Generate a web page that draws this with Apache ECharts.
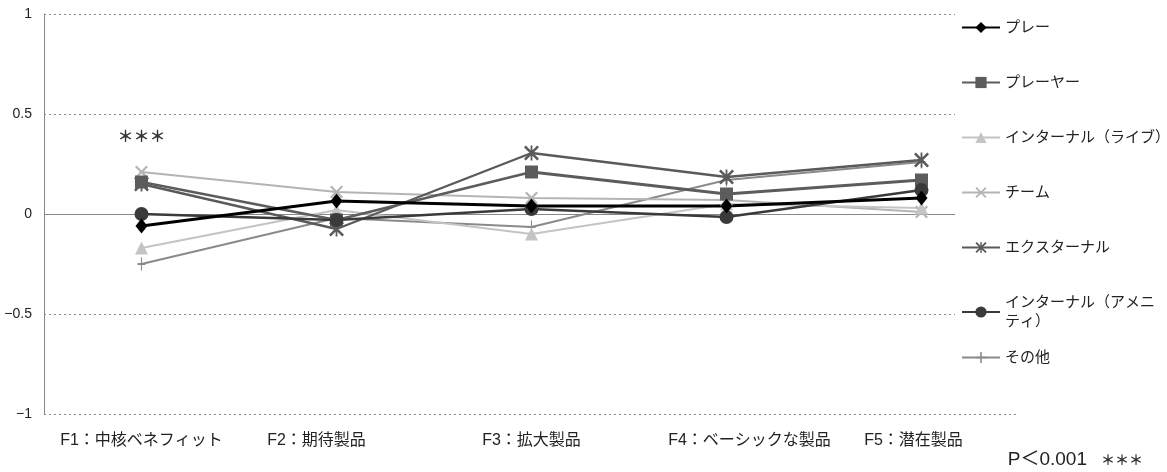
<!DOCTYPE html>
<html><head><meta charset="utf-8">
<script src="https://cdn.jsdelivr.net/npm/echarts@6/dist/echarts.min.js"></script>
<style>html,body{margin:0;padding:0;background:#fff}#c{width:1167px;height:472px}</style>
</head><body><div id="c"></div>
<script>
const categories = ['F1：中核ベネフィット','F2：期待製品','F3：拡大製品','F4：ベーシックな製品','F5：潜在製品'];
const play      = [-0.06, 0.065, 0.04, 0.04, 0.08];
const player    = [0.16, -0.03, 0.21, 0.10, 0.17];
const live      = [-0.17, 0.02, -0.10, 0.05, 0.03];
const team      = [0.21, 0.11, 0.08, 0.07, 0.01];
const external  = [0.15, -0.075, 0.305, 0.185, 0.27];
const amenity   = [0.0, -0.03, 0.025, -0.015, 0.12];
const others    = [-0.25, -0.02, -0.065, 0.17, 0.26];
const yTicks = {min: -1, max: 1, interval: 0.5};
const sigLabel = '＊＊＊';
const sigValue = 0.39;
const noteP = 'P＜0.001';
const noteStars = '＊＊＊';

const FONT = '"Liberation Sans","Noto Sans CJK JP",sans-serif';
const CJK = '"Noto Sans CJK JP",sans-serif';
const X = 'path://M0,1.2L1.2,0L5,3.8L8.8,0L10,1.2L6.2,5L10,8.8L8.8,10L5,6.2L1.2,10L0,8.8L3.8,5Z';
const AST = 'path://M0,1.2L1.2,0L5,3.8L8.8,0L10,1.2L6.2,5L10,8.8L8.8,10L5,6.2L1.2,10L0,8.8L3.8,5Z M4.4,0L5.6,0L5.6,10L4.4,10Z';
const PLUS = 'path://M4.3,0L5.7,0L5.7,4.3L10,4.3L10,5.7L5.7,5.7L5.7,10L4.3,10L4.3,5.7L0,5.7L0,4.3L4.3,4.3Z';

function mk(name, data, color, width, symbol, size, extra) {
  return Object.assign({
    name, type: 'line', data, symbol, symbolSize: size, showSymbol: true,
    lineStyle: {color, width}, itemStyle: {color, borderWidth: 0},
    animation: false, z: 3
  }, extra || {});
}

const series = [
  mk('その他', others, '#8a8a8a', 2, PLUS, [8, 13]),
  mk('チーム', team, '#b4b4b4', 2.2, X, 13),
  mk('インターナル（ライブ）', live, '#c4c4c4', 2.2, 'triangle', 13),
  mk('エクスターナル', external, '#5a5a5a', 2.4, AST, 15),
  mk('プレーヤー', player, '#5c5c5c', 2.8, 'rect', 13),
  mk('インターナル（アメニティ）', amenity, '#3a3a3a', 2.4, 'circle', 14),
  mk('プレー', play, '#000000', 3, 'diamond', [12, 15], {
    markLine: {silent: true, symbol: 'none', label: {show: false},
      lineStyle: {color: '#888', width: 1, type: 'solid'}, data: [{yAxis: 0}], z: 1},
    markPoint: {symbol: 'circle', symbolSize: 1, itemStyle: {color: 'rgba(0,0,0,0)'},
      label: {show: true, position: 'inside', formatter: sigLabel, fontSize: 16, fontWeight: 'bold', color: '#333', fontFamily: CJK},
      data: [{coord: [categories[0], sigValue]}]}
  })
];

const shift = [0, -20, 0, 23, -8];
const rich = {};
shift.forEach((s, i) => {
  rich['c' + i] = {fontSize: 16, color: '#222', fontFamily: FONT,
    padding: s >= 0 ? [0, 0, 0, 2 * s] : [0, -2 * s, 0, 0]};
});

const chart = echarts.init(document.getElementById('c'), null, {renderer: 'canvas'});
const legendBase = {
  orient: 'vertical', left: 955, backgroundColor: '#fff', z: 10,
  itemWidth: 38, itemHeight: 14, itemGap: 36,
  textStyle: {fontSize: 15, color: '#222', fontFamily: FONT, lineHeight: 19},
  formatter: n => n === 'インターナル（アメニティ）' ? 'インターナル（アメニ\nティ）' : n
};
chart.setOption({
  backgroundColor: '#fff',
  animation: false,
  grid: {left: 44, right: 148, top: 14, bottom: 58, containLabel: false},
  xAxis: {
    type: 'category', data: categories, boundaryGap: true,
    axisLine: {show: false}, axisTick: {show: false},
    axisLabel: {margin: 19, interval: 0, rich,
      formatter: (v, i) => '{c' + i + '|' + v + '}'}
  },
  yAxis: {
    type: 'value', min: yTicks.min, max: yTicks.max, interval: yTicks.interval,
    axisLine: {show: true, lineStyle: {color: '#888', width: 1}},
    axisTick: {show: false},
    splitLine: {show: true, lineStyle: {color: '#888', type: [2, 3], width: 1}},
    axisLabel: {fontSize: 14, color: '#222', fontFamily: FONT, margin: 12,
      formatter: v => String(v).replace('-', '−')}
  },
  legend: [
    Object.assign({}, legendBase, {top: 6, padding: [12, 10, 14, 6],
      data: ['プレー','プレーヤー','インターナル（ライブ）','チーム','エクスターナル','インターナル（アメニティ）']}),
    Object.assign({}, legendBase, {top: 340, padding: [8, 10, 8, 6], data: ['その他']})
  ],
  graphic: [{type: 'text', right: 24, bottom: 3,
    style: {rich: {p: {fontSize: 19, fontFamily: FONT, fill: '#222'},
                   s: {fontSize: 14, fontWeight: 'bold', fontFamily: CJK, fill: '#333', padding: [0, 0, 0, 14]}},
            text: '{p|' + noteP + '}{s|' + noteStars + '}'}}],
  series
});
</script></body></html>
